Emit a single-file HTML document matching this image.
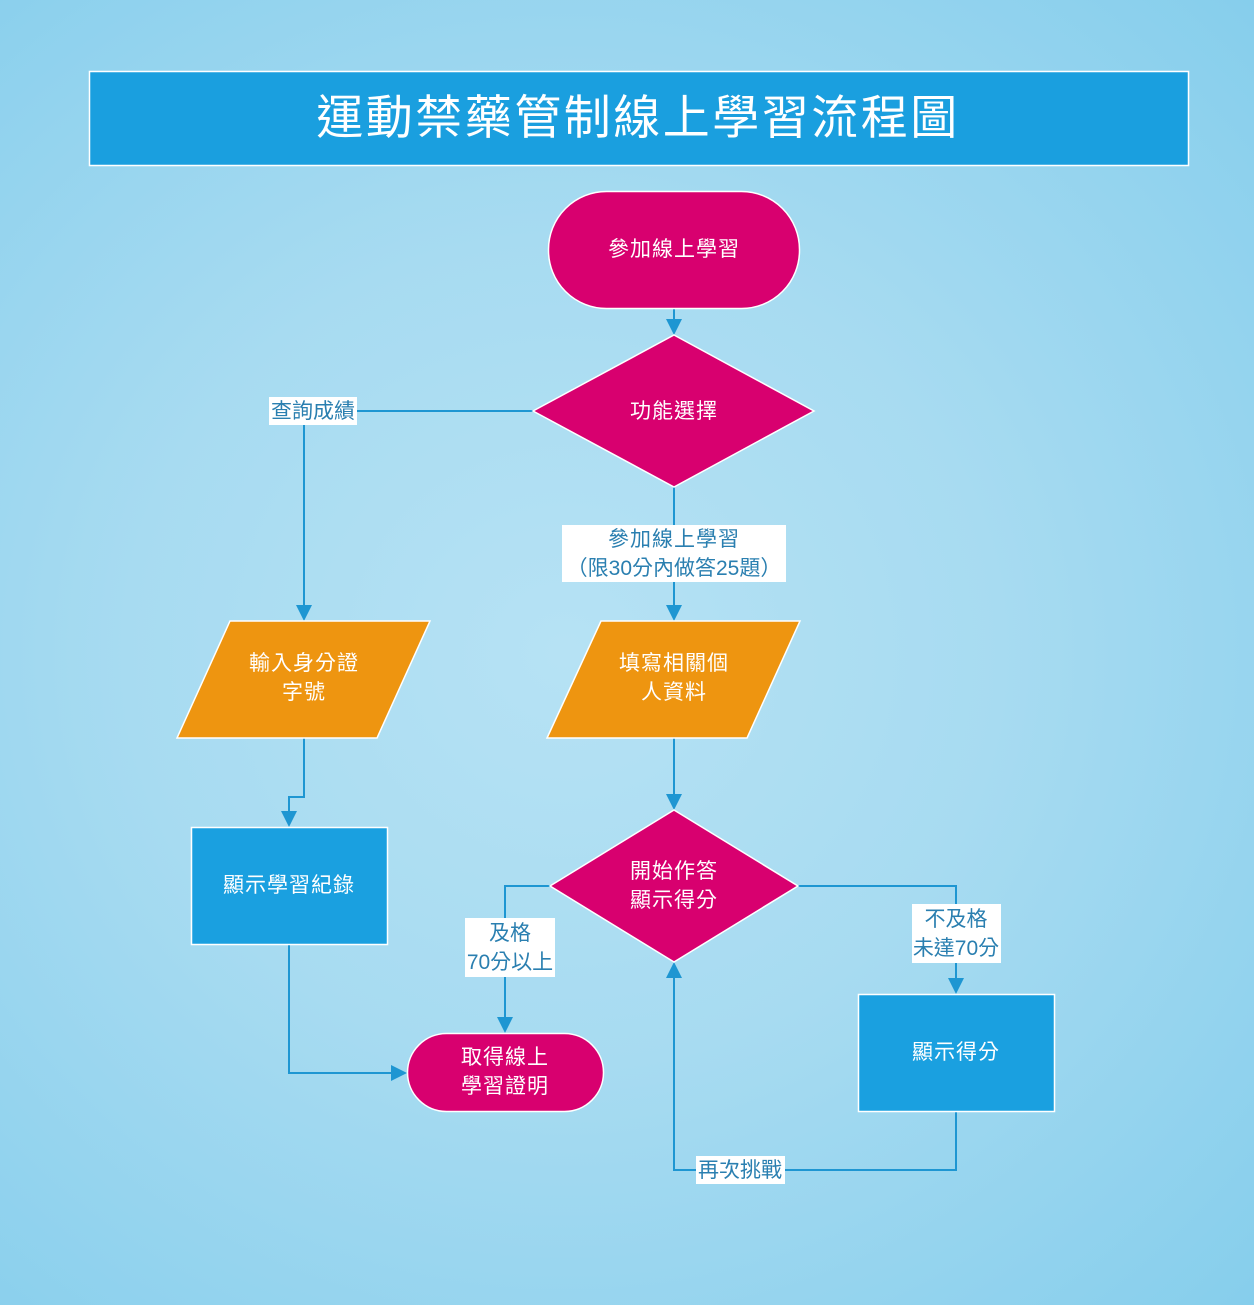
<!DOCTYPE html>
<html><head><meta charset="utf-8"><style>
html,body{margin:0;padding:0}
body{width:1254px;height:1305px;overflow:hidden;background:radial-gradient(ellipse at 45% 50%,#b6e2f4 0%,#a7dbf1 45%,#86ceec 100%);}
svg{display:block}
text{font-family:"Liberation Sans","Noto Sans CJK TC",sans-serif;}
</style></head><body>
<svg width="1254" height="1305" viewBox="0 0 1254 1305" xmlns="http://www.w3.org/2000/svg">
<defs>
<marker id="b" markerWidth="16" markerHeight="16" refX="14" refY="8" orient="auto" markerUnits="userSpaceOnUse" viewBox="0 0 16 16">
<path d="M0,0 L16,8 L0,16 z" fill="#1e96d2"/></marker>
</defs>
<rect x="89.5" y="71.5" width="1099" height="94" fill="#1a9fdf" stroke="#fff" stroke-width="1.5"/>
<text x="638" y="134" font-size="47" fill="#fff" text-anchor="middle" letter-spacing="2.5">運動禁藥管制線上學習流程圖</text>

<g stroke="#1e96d2" stroke-width="2" fill="none">
<path d="M674,308 V333" marker-end="url(#b)"/>
<path d="M533,411 H357"/>
<path d="M304,425 V619" marker-end="url(#b)"/>
<path d="M674,487 V525"/>
<path d="M674,582 V619" marker-end="url(#b)"/>
<path d="M304,738 V797 H289 V825" marker-end="url(#b)"/>
<path d="M289,944 V1073 H405" marker-end="url(#b)"/>
<path d="M674,738 V808" marker-end="url(#b)"/>
<path d="M550,886 H505 V918"/>
<path d="M505,977 V1031" marker-end="url(#b)"/>
<path d="M798,886 H956 V904"/>
<path d="M956,963 V992" marker-end="url(#b)"/>
<path d="M956,1111 V1170 H785"/>
<path d="M696,1170 H674 V964" marker-end="url(#b)"/>
</g>

<g stroke="#fff" stroke-width="1.5">
<rect x="548.5" y="191.5" width="251" height="117" rx="58" fill="#d8006f"/>
<polygon points="674,335 814,411 674,487 533,411" fill="#d8006f"/>
<polygon points="230,621 430,621 377,738 177,738" fill="#ee9510"/>
<polygon points="601,621 800,621 747,738 547,738" fill="#ee9510"/>
<rect x="191.5" y="827.5" width="196" height="117" fill="#1aa0e0"/>
<polygon points="674,810 798,886 674,962 550,886" fill="#d8006f"/>
<rect x="407.5" y="1033.5" width="196" height="78" rx="39" fill="#d8006f"/>
<rect x="858.5" y="994.5" width="196" height="117" fill="#1aa0e0"/>
</g>

<g fill="#fff" stroke="none">
<rect x="269" y="397" width="88" height="28"/>
<rect x="562" y="525" width="224" height="57"/>
<rect x="465" y="918" width="90" height="59"/>
<rect x="912" y="904" width="89" height="59"/>
<rect x="696" y="1156" width="89" height="28"/>
</g>

<g font-size="21" fill="#fff" text-anchor="middle" letter-spacing="1">
<text x="674" y="256">參加線上學習</text>
<text x="674" y="418">功能選擇</text>
<text x="304" y="670">輸入身分證</text>
<text x="304" y="699">字號</text>
<text x="674" y="670">填寫相關個</text>
<text x="674" y="699">人資料</text>
<text x="289" y="892">顯示學習紀錄</text>
<text x="674" y="878">開始作答</text>
<text x="674" y="907">顯示得分</text>
<text x="505" y="1064">取得線上</text>
<text x="505" y="1093">學習證明</text>
<text x="956" y="1059">顯示得分</text>
</g>
<g font-size="21" fill="#2a7fb0" text-anchor="middle">
<text x="313" y="418">查詢成績</text>
<text x="674" y="546" letter-spacing="1">參加線上學習</text>
<text x="674" y="575">（限30分內做答25題）</text>
<text x="510" y="940">及格</text>
<text x="510" y="969">70分以上</text>
<text x="956" y="926">不及格</text>
<text x="956" y="955">未達70分</text>
<text x="740" y="1177">再次挑戰</text>
</g>
</svg>
</body></html>
